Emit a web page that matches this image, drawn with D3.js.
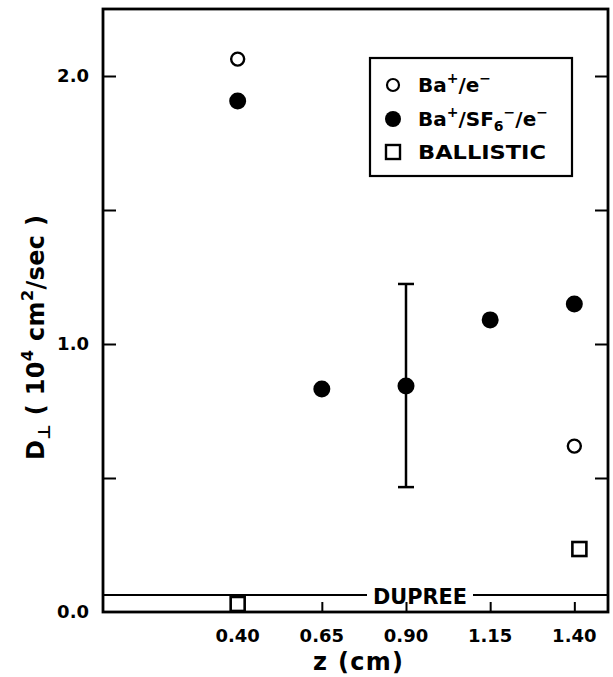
<!DOCTYPE html>
<html><head><meta charset="utf-8">
<script src="https://cdn.jsdelivr.net/npm/d3@7"></script>
<style>body{margin:0;background:#fff}svg{display:block}text{font-family:"DejaVu Sans",sans-serif;fill:#000;font-weight:bold}</style>
</head><body>
<svg id="c" width="613" height="677"></svg>
<script>
const xTicks = [0.40, 0.65, 0.90, 1.15, 1.40];
const xTickLabels = ["0.40", "0.65", "0.90", "1.15", "1.40"];
const yTicks = [0.0, 0.5, 1.0, 1.5, 2.0];
const yTickLabels = ["0.0", "", "1.0", "", "2.0"];
const openX = [0.40, 1.40];
const openY = [2.063, 0.619];
const filledX = [0.40, 0.65, 0.90, 1.15, 1.40];
const filledY = [1.907, 0.832, 0.843, 1.090, 1.149];
const errX = [0.90];
const errLo = [0.466];
const errHi = [1.224];
const ballX = [0.40, 1.415];
const ballY = [0.030, 0.235];
const dupree = 0.063;

const svg = d3.select("#c");
const L = 103, R = 608, T = 9, B = 612;
const x = d3.scaleLinear().domain([0, 1.5]).range([L, R]);
const y = d3.scaleLinear().domain([0, 2.25]).range([B, T]);

// frame
svg.append("rect").attr("x", L).attr("y", T).attr("width", R - L).attr("height", B - T)
  .attr("fill", "none").attr("stroke", "#000").attr("stroke-width", 2.8);

// y axes ticks inward
const yl = d3.axisRight(y).tickValues(yTicks.filter(v => v > 0)).tickSize(13).tickFormat("");
svg.append("g").attr("transform", `translate(${L},0)`).call(yl).call(g => g.select(".domain").remove())
  .selectAll("line").attr("stroke-width", 2);
const yr = d3.axisLeft(y).tickValues(yTicks.filter(v => v > 0)).tickSize(13).tickFormat("");
svg.append("g").attr("transform", `translate(${R},0)`).call(yr).call(g => g.select(".domain").remove())
  .selectAll("line").attr("stroke-width", 2);
// y tick labels
svg.append("g").selectAll("text").data(yTicks).join("text")
  .attr("x", L - 14).attr("y", d => y(d)).attr("dy", "0.36em").attr("text-anchor", "end")
  .attr("font-size", 18).text((d, i) => yTickLabels[i]);

// x ticks inward
const xb = d3.axisTop(x).tickValues(xTicks).tickSize(10).tickFormat("");
svg.append("g").attr("transform", `translate(0,${B})`).call(xb).call(g => g.select(".domain").remove())
  .selectAll("line").attr("stroke-width", 2);
svg.append("g").selectAll("text").data(xTicks).join("text")
  .attr("x", d => x(d)).attr("y", 642).attr("text-anchor", "middle")
  .attr("font-size", 18).text((d, i) => xTickLabels[i]);

// axis titles
svg.append("text").attr("x", 313).attr("y", 670).attr("textLength", 90).attr("lengthAdjust", "spacing")
  .attr("font-size", 24).text("z (cm)");
const yt = svg.append("text").attr("transform", "translate(44,460) rotate(-90)")
  .attr("font-size", 24).attr("textLength", 245).attr("lengthAdjust", "spacing");
yt.append("tspan").text("D");
yt.append("tspan").attr("dy", 6).attr("font-size", 17).text("⊥");
yt.append("tspan").attr("dy", -6).text(" ( 10");
yt.append("tspan").attr("dy", -11).attr("font-size", 16).text("4");
yt.append("tspan").attr("dy", 11).text(" cm");
yt.append("tspan").attr("dy", -11).attr("font-size", 16).text("2");
yt.append("tspan").attr("dy", 11).text("/sec )");

// Dupree line
const dy0 = y(dupree);
const txtL = 373, txtR = 467;
svg.append("line").attr("x1", L).attr("x2", txtL - 6).attr("y1", dy0).attr("y2", dy0).attr("stroke", "#000").attr("stroke-width", 2);
svg.append("line").attr("x1", txtR + 6).attr("x2", R).attr("y1", dy0).attr("y2", dy0).attr("stroke", "#000").attr("stroke-width", 2);
svg.append("text").attr("x", txtL).attr("y", dy0 + 9).attr("textLength", txtR - txtL).attr("lengthAdjust", "spacingAndGlyphs")
  .attr("font-size", 22).text("DUPREE");

// error bar
const eb = svg.append("g");
errX.forEach((v, i) => {
  eb.append("line").attr("x1", x(v)).attr("x2", x(v)).attr("y1", y(errLo[i])).attr("y2", y(errHi[i])).attr("stroke", "#000").attr("stroke-width", 2.5);
  [errLo[i], errHi[i]].forEach(e => eb.append("line").attr("x1", x(v) - 8).attr("x2", x(v) + 8).attr("y1", y(e)).attr("y2", y(e)).attr("stroke", "#000").attr("stroke-width", 2.5));
});

// points
svg.append("g").selectAll("circle").data(openX).join("circle")
  .attr("cx", d => x(d)).attr("cy", (d, i) => y(openY[i])).attr("r", 6.5)
  .attr("fill", "#fff").attr("stroke", "#000").attr("stroke-width", 2.4);
svg.append("g").selectAll("circle").data(filledX).join("circle")
  .attr("cx", d => x(d)).attr("cy", (d, i) => y(filledY[i])).attr("r", 8.5).attr("fill", "#000");
svg.append("g").selectAll("rect").data(ballX).join("rect")
  .attr("x", d => x(d) - 7).attr("y", (d, i) => y(ballY[i]) - 7).attr("width", 14).attr("height", 14)
  .attr("fill", "#fff").attr("stroke", "#000").attr("stroke-width", 2.6);

// legend
const lg = svg.append("g");
lg.append("rect").attr("x", 370).attr("y", 58).attr("width", 202).attr("height", 118)
  .attr("fill", "#fff").attr("stroke", "#000").attr("stroke-width", 2.2);
lg.append("circle").attr("cx", 393).attr("cy", 85).attr("r", 6).attr("fill", "#fff").attr("stroke", "#000").attr("stroke-width", 2.2);
lg.append("circle").attr("cx", 393).attr("cy", 119).attr("r", 8).attr("fill", "#000");
lg.append("rect").attr("x", 386).attr("y", 145).attr("width", 14).attr("height", 14).attr("fill", "#fff").attr("stroke", "#000").attr("stroke-width", 2.4);
const t1 = lg.append("text").attr("x", 418).attr("y", 92).attr("font-size", 20);
t1.append("tspan").text("Ba");
t1.append("tspan").attr("dy", -9).attr("font-size", 14).text("+");
t1.append("tspan").attr("dy", 9).text("/e");
t1.append("tspan").attr("dy", -9).attr("font-size", 14).text("−");
const t2 = lg.append("text").attr("x", 418).attr("y", 126).attr("font-size", 20);
t2.append("tspan").text("Ba");
t2.append("tspan").attr("dy", -9).attr("font-size", 14).text("+");
t2.append("tspan").attr("dy", 9).text("/SF");
t2.append("tspan").attr("dy", 5).attr("font-size", 14).text("6");
t2.append("tspan").attr("dy", -14).attr("font-size", 14).text("−");
t2.append("tspan").attr("dy", 9).text("/e");
t2.append("tspan").attr("dy", -9).attr("font-size", 14).text("−");
lg.append("text").attr("x", 418).attr("y", 159).attr("font-size", 20).attr("textLength", 128).attr("lengthAdjust", "spacingAndGlyphs").text("BALLISTIC");
</script>
</body></html>
